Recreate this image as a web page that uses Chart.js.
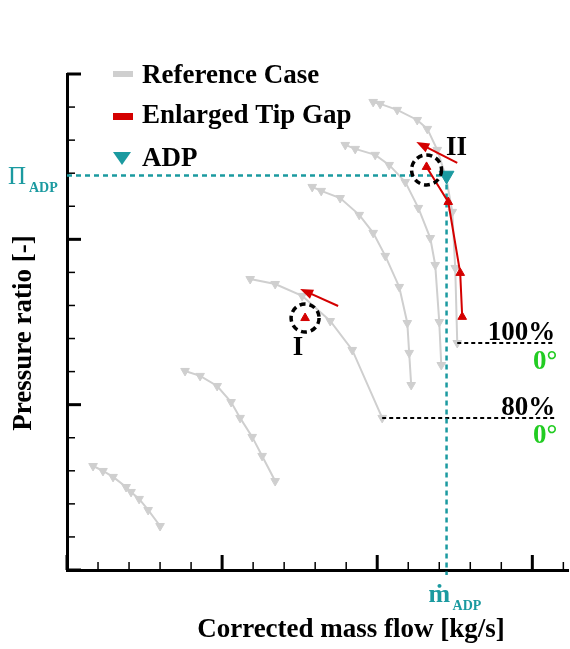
<!DOCTYPE html>
<html>
<head>
<meta charset="utf-8">
<script src="https://cdn.jsdelivr.net/npm/chart.js@4.4.1/dist/chart.umd.min.js"></script>
<style>
  html, body { margin: 0; padding: 0; background: #fff; }
  #wrap { width: 570px; height: 649px; }
</style>
</head>
<body>
<div id="wrap"><canvas id="c"></canvas></div>
<script>
// reference case speed lines, [mass flow, pressure ratio] in axis units
const speedLine1 = [[0.168,0.629],[0.232,0.599],[0.297,0.563],[0.381,0.502],[0.413,0.472],[0.465,0.430],[0.523,0.363],[0.600,0.266]]
const speedLine2 = [[0.761,1.204],[0.858,1.174],[0.968,1.113],[1.058,1.016],[1.116,0.920],[1.194,0.805],[1.258,0.690],[1.342,0.538]]
const speedLine80 = [[1.181,1.760],[1.342,1.730],[1.516,1.658],[1.697,1.506],[1.839,1.331],[2.032,0.920]]
const speedLine4 = [[1.581,2.317],[1.639,2.293],[1.761,2.250],[1.884,2.148],[1.974,2.039],[2.052,1.900],[2.142,1.712],[2.194,1.494],[2.206,1.313],[2.219,1.119]]
const speedLine5 = [[1.794,2.571],[1.858,2.547],[1.987,2.511],[2.077,2.450],[2.181,2.347],[2.265,2.190],[2.342,2.008],[2.374,1.845],[2.400,1.500],[2.413,1.240]]
const speedLine100 = [[1.974,2.831],[2.019,2.819],[2.129,2.783],[2.258,2.722],[2.323,2.668],[2.387,2.541],[2.445,2.371],[2.484,2.166],[2.503,1.827],[2.516,1.373]]

// enlarged tip gap
const tipGap100 = [[2.318,2.438],[2.458,2.226],[2.535,1.797],[2.548,1.531]]
const tipGap80 = [[1.535,1.524]]
const shiftI = [[1.748,1.597],[1.503,1.700]]
const shiftII = [[2.516,2.462],[2.252,2.589]]

const adp = [2.447, 2.386]
const labelEndX = 3.148

const legendLabels = ['Reference Case', 'Enlarged Tip Gap', 'ADP']
const speedLabels = ['100%', '80%']
const angleLabel = '0°'

const SERIF = '"Liberation Serif", "Times New Roman", serif'
const GRAY = '#cfcfcf', RED = '#d40000', TEAL = '#1b9aa0', GREEN = '#22cc22'

const pts = a => a.map(([x, y]) => ({ x, y }))

const refSet = a => ({
  data: pts(a), borderColor: GRAY, backgroundColor: GRAY, borderWidth: 2,
  pointStyle: 'triangle', pointRotation: 180, pointRadius: 5, pointBorderWidth: 1,
  pointBorderColor: GRAY, showLine: true, order: 6,
})

const dashed = (a, color, dash, width, clip) => ({
  data: pts(a), borderColor: color, borderWidth: width, borderDash: dash,
  pointRadius: 0, showLine: true, order: 4, clip: clip,
})

function arrow(ctx, x0, y0, x1, y1) {
  const ang = Math.atan2(y1 - y0, x1 - x0), L = 13, W = 5
  ctx.strokeStyle = RED; ctx.fillStyle = RED; ctx.lineWidth = 2
  ctx.beginPath(); ctx.moveTo(x0, y0)
  ctx.lineTo(x1 - Math.cos(ang) * L * 0.7, y1 - Math.sin(ang) * L * 0.7); ctx.stroke()
  ctx.beginPath(); ctx.moveTo(x1, y1)
  ctx.lineTo(x1 - L * Math.cos(ang) + W * Math.sin(ang), y1 - L * Math.sin(ang) - W * Math.cos(ang))
  ctx.lineTo(x1 - L * Math.cos(ang) - W * Math.sin(ang), y1 - L * Math.sin(ang) + W * Math.cos(ang))
  ctx.closePath(); ctx.fill()
}

const decor = {
  id: 'decor',
  afterDatasetsDraw(chart) {
    const { ctx, scales: { x, y }, chartArea: a } = chart
    const P = ([vx, vy]) => [x.getPixelForValue(vx), y.getPixelForValue(vy)]
    ctx.save()

    // inward ticks
    ctx.strokeStyle = '#000'
    const major = v => Math.abs(v - Math.round(v)) < 1e-6
    x.ticks.forEach(t => {
      const px = x.getPixelForValue(t.value), m = major(t.value)
      ctx.lineWidth = m ? 3 : 1.5
      ctx.beginPath(); ctx.moveTo(px, a.bottom); ctx.lineTo(px, a.bottom - (m ? 15 : 8)); ctx.stroke()
    })
    y.ticks.forEach(t => {
      const py = y.getPixelForValue(t.value), m = major(t.value)
      ctx.lineWidth = m ? 3 : 1.5
      ctx.beginPath(); ctx.moveTo(a.left, py); ctx.lineTo(a.left + (m ? 14 : 8), py); ctx.stroke()
    })

    // shift arrows
    ;[shiftI, shiftII].forEach(s => { const [p0, p1] = s.map(P); arrow(ctx, p0[0], p0[1], p1[0], p1[1]) })

    // dashed circles
    ctx.strokeStyle = '#000'; ctx.lineWidth = 3.5; ctx.setLineDash([6, 4])
    ;[[tipGap80[0], 14, 0], [tipGap100[0], 15, 3]].forEach(([c, r, dy]) => {
      const [cx, cy] = P(c)
      ctx.beginPath(); ctx.arc(cx, cy + dy, r, 0, Math.PI * 2); ctx.stroke()
    })
    ctx.setLineDash([])

    // point labels
    ctx.fillStyle = '#000'; ctx.font = `bold 27px ${SERIF}`; ctx.textAlign = 'center'; ctx.textBaseline = 'alphabetic'
    const [ix, iy] = P(tipGap80[0]); ctx.fillText('I', ix - 7, iy + 37)
    const [jx, jy] = P(tipGap100[0]); ctx.fillText('II', jx + 30, jy - 12)

    // speed line labels
    ctx.textAlign = 'right'
    const e100 = P(speedLine100[speedLine100.length - 1]), e80 = P(speedLine80[speedLine80.length - 1])
    const rx = x.getPixelForValue(labelEndX)
    ctx.fillText(speedLabels[0], rx, e100[1] - 3)
    ctx.fillText(speedLabels[1], rx, e80[1] - 3)
    ctx.fillStyle = GREEN
    ctx.fillText(angleLabel, rx + 2, e100[1] + 26)
    ctx.fillText(angleLabel, rx + 2, e80[1] + 25)

    // ADP axis labels
    const [ax, ay] = P(adp)
    ctx.fillStyle = TEAL; ctx.textAlign = 'left'
    ctx.font = `25px ${SERIF}`; ctx.fillText('Π', 8, ay + 8)
    ctx.font = `bold 14px ${SERIF}`; ctx.fillText('ADP', 29, ay + 16)
    ctx.font = `bold 26px ${SERIF}`; ctx.fillText('ṁ', ax - 18, a.bottom + 32)
    ctx.font = `bold 14px ${SERIF}`; ctx.fillText('ADP', ax + 6, a.bottom + 40)

    // axis titles
    ctx.fillStyle = '#000'; ctx.font = `bold 27px ${SERIF}`; ctx.textAlign = 'center'
    ctx.fillText('Corrected mass flow [kg/s]', 351, a.bottom + 67)
    ctx.save(); ctx.translate(31, 333); ctx.rotate(-Math.PI / 2)
    ctx.fillText('Pressure ratio [-]', 0, 0); ctx.restore()

    // legend
    ctx.textAlign = 'left'
    ctx.fillText(legendLabels[0], 142, 83)
    ctx.fillText(legendLabels[1], 142, 123)
    ctx.fillText(legendLabels[2], 142, 166)
    ctx.fillStyle = GRAY; ctx.fillRect(113, 71, 20, 6)
    ctx.fillStyle = RED; ctx.fillRect(113, 113, 20, 7)
    ctx.fillStyle = TEAL
    ctx.beginPath(); ctx.moveTo(113, 152); ctx.lineTo(131, 152); ctx.lineTo(122, 165); ctx.closePath(); ctx.fill()

    ctx.restore()
  }
}

new Chart(document.getElementById('c'), {
  type: 'scatter',
  data: {
    datasets: [
      { data: [{ x: adp[0], y: adp[1] }], pointStyle: 'triangle', pointRotation: 180, pointRadius: 8.5,
        backgroundColor: TEAL, borderColor: TEAL, pointBorderWidth: 1, order: 1 },
      { data: pts(tipGap100), borderColor: RED, backgroundColor: RED, borderWidth: 2, showLine: true,
        pointStyle: 'triangle', pointRadius: 5, pointBorderWidth: 1, order: 2 },
      { data: pts(tipGap80), borderColor: RED, backgroundColor: RED,
        pointStyle: 'triangle', pointRadius: 5, pointBorderWidth: 1, order: 2 },
      dashed([[0, adp[1]], adp], TEAL, [5, 4], 2.5, true),
      dashed([adp, [adp[0], -0.03]], TEAL, [5, 4], 2.5, false),
      dashed([speedLine100[speedLine100.length - 1], [labelEndX, speedLine100[speedLine100.length - 1][1]]], '#000', [4, 3], 2, true),
      dashed([speedLine80[speedLine80.length - 1], [labelEndX, speedLine80[speedLine80.length - 1][1]]], '#000', [4, 3], 2, true),
      refSet(speedLine1), refSet(speedLine2), refSet(speedLine80),
      refSet(speedLine4), refSet(speedLine5), refSet(speedLine100),
    ],
  },
  options: {
    animation: false,
    responsive: true,
    maintainAspectRatio: false,
    layout: { autoPadding: false, padding: { left: 67, right: 2, top: 74, bottom: 79 } },
    plugins: { legend: { display: false }, tooltip: { enabled: false } },
    elements: { line: { tension: 0 } },
    scales: {
      x: {
        min: 0, max: 3.23,
        ticks: { display: false, stepSize: 0.2, includeBounds: false },
        grid: { display: false, drawTicks: false },
        border: { display: true, color: '#000', width: 3 },
        afterFit(s) { s.paddingLeft = 0; s.paddingRight = 0 },
      },
      y: {
        min: 0, max: 3,
        ticks: { display: false, stepSize: 0.2, includeBounds: false },
        grid: { display: false, drawTicks: false },
        border: { display: true, color: '#000', width: 3 },
        afterFit(s) { s.width = 0; s.paddingTop = 0; s.paddingBottom = 0 },
      },
    },
  },
  plugins: [decor],
})
</script>
</body>
</html>
